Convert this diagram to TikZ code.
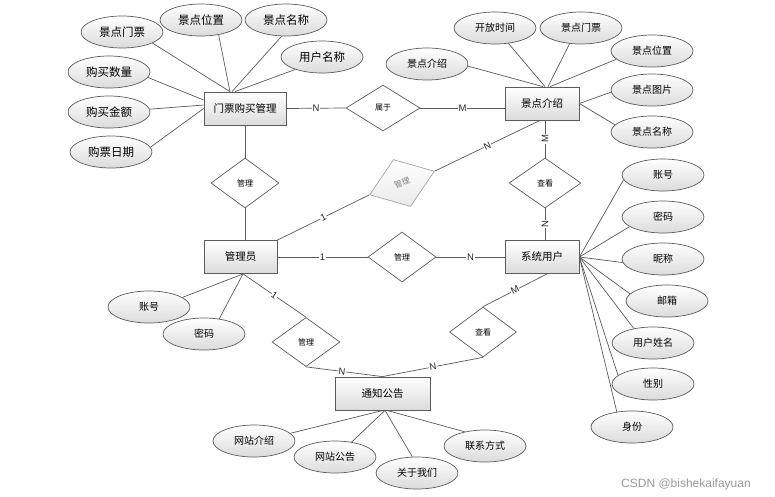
\documentclass[tikz,border=0pt]{standalone}
\usepackage{fontspec}
\setmainfont{Liberation Sans}
\newfontfamily\cjk{Noto Sans CJK SC}
\usetikzlibrary{shapes.geometric,calc}
\definecolor{lc}{HTML}{5A5A5A}
\definecolor{bc}{HTML}{5C5C5C}
\begin{document}
\begin{tikzpicture}[x=1pt,y=-1pt,
  ln/.style={draw=lc, line width=0.7pt},
  ent/.style={draw=bc, line width=0.8pt, top color=white, bottom color=black!14,
    minimum width=#1, minimum height=33, inner sep=0, font=\cjk\fontsize{10.5}{12}\selectfont},
  ent/.default=74,
  attr/.style={ellipse, draw=bc, line width=0.7pt, top color=white, bottom color=black!14,
    minimum width=82, minimum height=32, inner sep=0, font=\cjk\fontsize{10}{12}\selectfont},
  attrL/.style={attr, font=\cjk\fontsize{11.5}{13}\selectfont},
  rel/.style={diamond, draw=bc, line width=0.7pt, fill=white, minimum width=68, minimum height=50,
    inner sep=0, font=\cjk\fontsize{8}{10}\selectfont},
  card/.style={fill=white, inner sep=0.6pt, font=\fontsize{9.5}{10}\selectfont, text=black!85}
]
\useasboundingbox (0,0) rectangle (775,496);

% entities
\node[ent=82] (mp) at (245,108.5) {门票购买管理};
\node[ent=74] (jd) at (542,103.5) {景点介绍};
\node[ent=73] (gl) at (240.5,257) {管理员};
\node[ent=74] (su) at (542,257) {系统用户};
\node[ent=95] (tz) at (382.5,393.5) {通知公告};

% relationships
\node[rel, minimum width=74, minimum height=46] (r1) at (383,108) {属于};
\node[rel] (r2) at (245,183) {管理};
\node[rel, minimum width=69, draw=black!35, text=black!50, top color=white, bottom color=black!8, rotate=20] (r3) at (402,183) {管理};
\node[rel] (r4) at (402,257) {管理};
\node[rel, minimum width=72] (r5) at (545,183) {查看};
\node[rel, minimum height=49] (r6) at (306,342) {管理};
\node[rel, minimum width=67] (r7) at (483,332) {查看};

% attributes of 门票购买管理
\node[attrL] (a1) at (122,32) {景点门票};
\node[attrL] (a2) at (201,20) {景点位置};
\node[attrL] (a3) at (286,20) {景点名称};
\node[attrL] (a4) at (322,57) {用户名称};
\node[attrL] (a5) at (109,72) {购买数量};
\node[attrL] (a6) at (109,112) {购买金额};
\node[attrL] (a7) at (111,152) {购票日期};

% attributes of 景点介绍
\node[attr] (b1) at (427,64) {景点介绍};
\node[attr] (b2) at (495,28) {开放时间};
\node[attr] (b3) at (581,28) {景点门票};
\node[attr] (b4) at (652,51) {景点位置};
\node[attr] (b5) at (652,90) {景点图片};
\node[attr] (b6) at (652,132) {景点名称};

% attributes of 系统用户
\node[attr] (c1) at (663,175) {账号};
\node[attr] (c2) at (663,217) {密码};
\node[attr] (c3) at (663,259) {昵称};
\node[attr] (c4) at (667,301) {邮箱};
\node[attr] (c5) at (653,343) {用户姓名};
\node[attr] (c6) at (653,384) {性别};
\node[attr] (c7) at (632,427) {身份};

% attributes of 管理员
\node[attr] (d1) at (149,307) {账号};
\node[attr] (d2) at (204,334) {密码};

% attributes of 通知公告
\node[attr] (e1) at (254,441) {网站介绍};
\node[attr] (e2) at (335,457) {网站公告};
\node[attr] (e3) at (417,473) {关于我们};
\node[attr] (e4) at (485,446) {联系方式};

% connection points
\coordinate (mpT1) at ($(mp.north)+(-15,0)$);
\coordinate (mpT2) at ($(mp.north)+(-13,0)$);
\coordinate (mpT3) at ($(mp.north)+(-10,0)$);
\coordinate (mpL1) at ($(mp.west)+(0,-8.5)$);
\coordinate (mpL2) at ($(mp.west)+(0,-3.5)$);
\coordinate (mpL3) at ($(mp.west)+(0,0)$);
\coordinate (jdT1) at ($(jd.north)+(1,0)$);
\coordinate (jdT2) at ($(jd.north)+(3,0)$);
\coordinate (jdT3) at ($(jd.north)+(6,0)$);
\coordinate (jdT4) at ($(jd.north)+(8,0)$);
\coordinate (glB) at ($(gl.south)+(2.5,0)$);
\coordinate (tzB1) at ($(tz.south)+(0.5,0)$);
\coordinate (tzB2) at ($(tz.south)+(2.5,0)$);
\coordinate (tzB3) at ($(tz.south)+(4.5,0)$);
\coordinate (suB) at ($(su.south)+(5,0)$);
\coordinate (jdB) at ($(jd.south)+(-2,0)$);

% attribute lines
\draw[ln] (a1.-20) -- (mpT1);
\draw[ln] (a2.-40) -- (mpT1);
\draw[ln] (a3.255) -- (mpT2);
\draw[ln] (a4.205) -- (mpT3);
\draw[ln] (a5.-8) -- (mpL1);
\draw[ln] (a6.4) -- (mpL2);
\draw[ln] (a7.7) -- (mpL3);

\draw[ln] (b1.-3) -- (jdT1);
\draw[ln] (b2.-49) -- (jdT2);
\draw[ln] (b3.234) -- (jdT3);
\draw[ln] (b4.193) -- (jdT4);
\draw[ln] (b5.183) -- (jd.east);
\draw[ln] (b6.169) -- (jd.east);

\draw[ln] (c1.187) -- (su.east);
\draw[ln] (c2.196) -- (su.east);
\draw[ln] (c3.185) -- (su.east);
\draw[ln] (c4.169) -- (su.east);
\draw[ln] (c5.143) -- (su.east);
\draw[ln] (c6.166) -- (su.east);
\draw[ln] (c7.135) -- (su.east);

\draw[ln] (d1.16) -- (glB);
\draw[ln] (d2.45) -- (glB);

\draw[ln] (e1.12) -- (tzB1);
\draw[ln] (e2.42) -- (tzB2);
\draw[ln] (e3.106) -- (tzB2);
\draw[ln] (e4.145) -- (tzB3);

% relationship lines
\draw[ln] (mp.east) -- node[card]{N} (r1.west);
\draw[ln] (r1.east) -- node[card]{M} (r1.east -| jd.west);
\draw[ln] (mp.south -| r2.north) -- (r2.north);
\draw[ln] (r2.south) -- (r2.south |- gl.north);
\draw[ln] (gl.east) -- node[card]{1} (r4.west);
\draw[ln] (r4.east) -- node[card]{N} (su.west);
\draw[ln] (r5.north |- jd.south) -- node[card, rotate=90]{M} (r5.north);
\draw[ln] (r5.south) -- node[card, rotate=90]{N} (r5.south |- su.north);
\draw[ln] (gl.north east) -- node[card, sloped]{1} (r3.west);
\draw[ln] (r3.east) -- node[card, sloped]{N} (jdB);
\draw[ln] (glB) -- node[card, sloped]{1} (r6.north);
\draw[ln] (r6.south) -- node[card, sloped, pos=0.47]{N} (tz.north);
\draw[ln] (r7.north) -- node[card, sloped]{M} (suB);
\draw[ln] (r7.south) -- node[card, sloped]{N} (tz.north);

% watermark
\node[text=black!40, font=\fontsize{12}{14}\selectfont] (wm) at (686,484) {CSDN @bishekaifayuan};
\end{tikzpicture}
\end{document}
